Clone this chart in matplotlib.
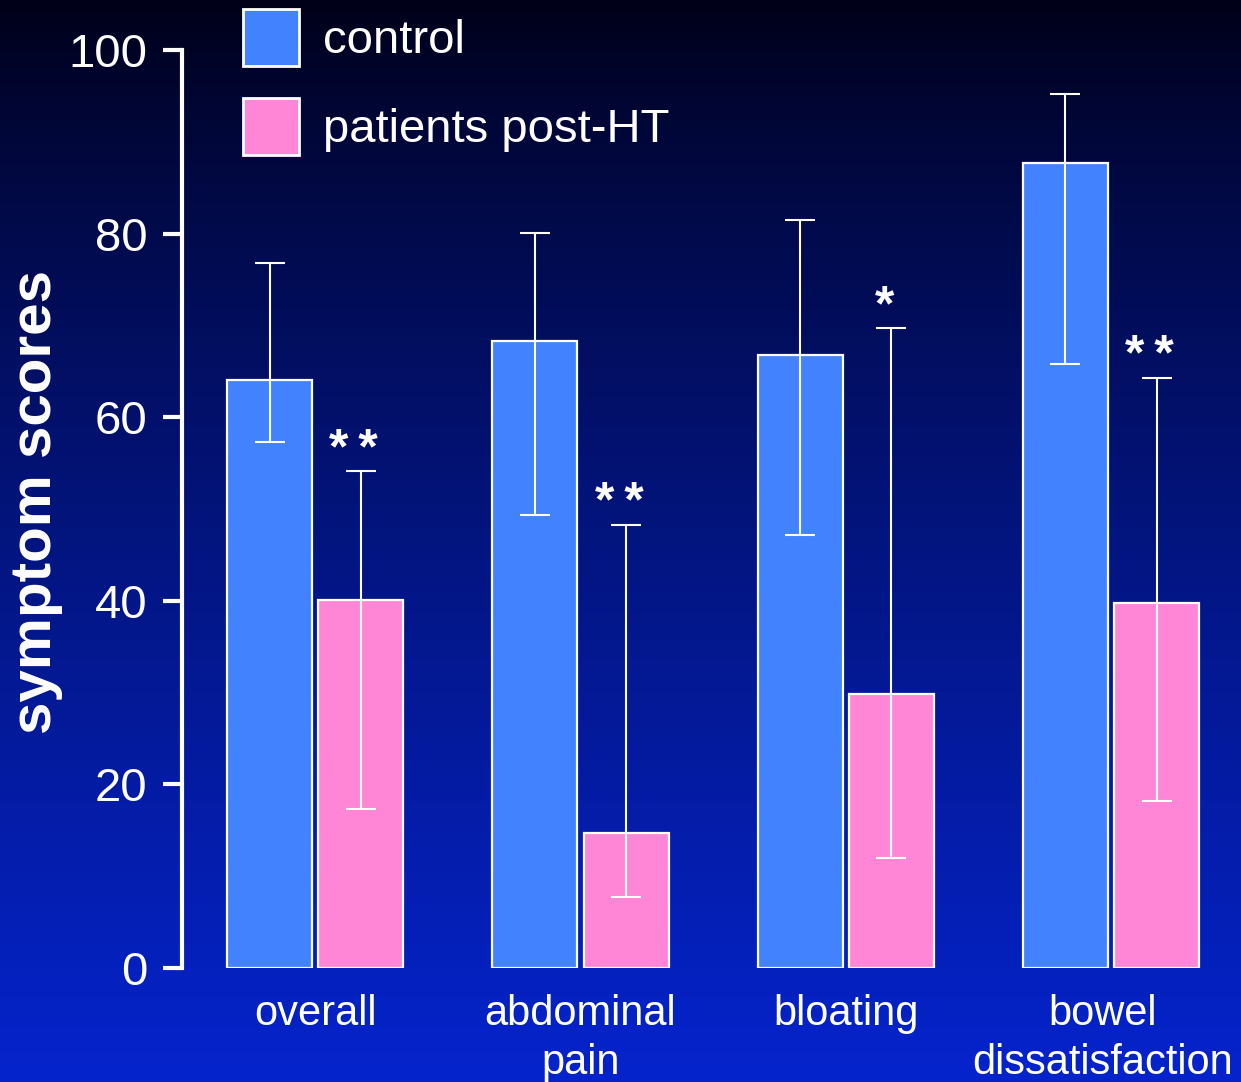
import matplotlib.pyplot as plt
import matplotlib.transforms as mtransforms
import numpy as np

plt.rcParams['font.family'] = ['Liberation Sans', 'DejaVu Sans']

categories = ['overall', 'abdominal\npain', 'bloating', 'bowel\ndissatisfaction']

# mean and error bar ends (low, high) per group
control_mean = [64.0, 68.3, 66.8, 87.7]
control_lo = [57.3, 49.3, 47.2, 65.8]
control_hi = [76.8, 80.1, 81.5, 95.2]

patient_mean = [40.1, 14.7, 29.8, 39.8]
patient_lo = [17.3, 7.7, 12.0, 18.2]
patient_hi = [54.1, 48.3, 69.7, 64.3]

stars = ['*\u2009*', '*\u2009*', '*', '*\u2009*']

control_color = '#4282FF'
patient_color = '#FF85D6'

fig = plt.figure(figsize=(12.41, 10.82), dpi=100)

# dark-to-blue gradient behind everything
bg = fig.add_axes([0, 0, 1, 1], zorder=-10)
grad = np.linspace(0, 1, 256)[:, None]
top = np.array([0.0, 0.0, 0.09])
bottom = np.array([0.02, 0.14, 0.80])
t = grad ** 0.8
img = top[None, None, :] * (1 - t[:, :, None]) + bottom[None, None, :] * t[:, :, None]
bg.imshow(img, aspect='auto', extent=[0, 1, 0, 1], origin='upper')
bg.axis('off')

ax = fig.add_axes([0.1467, 0.1054, 0.8533, 0.8484])
ax.patch.set_alpha(0)

x = np.arange(len(categories))
w = 0.32
off = 0.172

cm = np.array(control_mean)
pm = np.array(patient_mean)
ax.bar(x - off, cm, w, color=control_color, edgecolor='white', linewidth=1.6,
       label='control', zorder=2)
ax.bar(x + off, pm, w, color=patient_color, edgecolor='white', linewidth=1.6,
       label='patients post-HT', zorder=2)

ax.errorbar(x - off, cm, yerr=[cm - np.array(control_lo), np.array(control_hi) - cm],
            fmt='none', ecolor='white', elinewidth=1.5, capsize=11, capthick=1.5, zorder=3)
ax.errorbar(x + off, pm, yerr=[pm - np.array(patient_lo), np.array(patient_hi) - pm],
            fmt='none', ecolor='white', elinewidth=1.5, capsize=11, capthick=1.5, zorder=3)

for xi, hi, s in zip(x + off, patient_hi, stars):
    ax.text(xi - 0.027, hi + 0.8, s, ha='center', va='baseline', fontsize=36,
            fontweight='bold', color='white')

ax.set_xlim(-0.502, 3.49)
ax.set_ylim(0, 100)
ax.set_yticks([0, 20, 40, 60, 80, 100])
ax.set_xticks(x)
ax.set_xticklabels(categories, fontsize=30, color='white', linespacing=1.28)
ax.tick_params(axis='x', length=0, pad=19)
ax.tick_params(axis='y', length=14, width=3, color='white', labelcolor='white',
               labelsize=34, pad=11)

# last label is long, nudge it left so it stays inside the figure
last = ax.get_xticklabels()[-1]
last.set_transform(last.get_transform() +
                   mtransforms.ScaledTranslation(-0.08, 0, fig.dpi_scale_trans))

for side in ['top', 'right', 'bottom']:
    ax.spines[side].set_visible(False)
ax.spines['left'].set_color('white')
ax.spines['left'].set_linewidth(3)

ax.set_ylabel('symptom scores', fontsize=42, fontweight='bold', color='white')
ax.yaxis.set_label_coords(-0.112, 0.508)

leg = fig.legend(loc='upper left', bbox_to_anchor=(243 / 1241, 1 - 9 / 1082),
                 frameon=False, fontsize=34, handlelength=1.19, handleheight=1.48,
                 handletextpad=0.5, labelspacing=0.68, borderaxespad=0, borderpad=0)
for txt in leg.get_texts():
    txt.set_color('white')
for h in leg.legend_handles:
    h.set_edgecolor('white')
    h.set_linewidth(2)

fig.savefig('out.png', dpi=100)
